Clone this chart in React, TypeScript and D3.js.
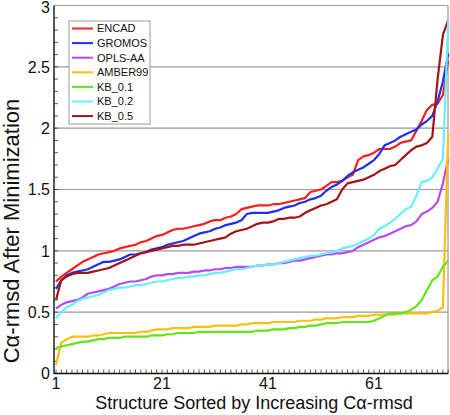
import React from "react";
import * as d3 from "d3";

const seriesNames = ["ENCAD", "GROMOS", "OPLS-AA", "AMBER99", "KB_0.1", "KB_0.2", "KB_0.5"];
const seriesColors = ["#ff1c1c", "#1f2ef0", "#b44af2", "#ffbe0a", "#5ee617", "#66f0ff", "#a51212"];

const encad = [0.75,0.79,0.82,0.85,0.88,0.91,0.93,0.95,0.97,0.98,0.99,1.00,1.02,1.03,1.04,1.05,1.07,1.08,1.10,1.12,1.13,1.15,1.17,1.18,1.18,1.19,1.20,1.21,1.22,1.24,1.25,1.25,1.27,1.28,1.30,1.34,1.35,1.36,1.37,1.37,1.37,1.38,1.38,1.39,1.40,1.41,1.42,1.43,1.48,1.49,1.50,1.53,1.56,1.56,1.57,1.60,1.62,1.74,1.77,1.78,1.80,1.83,1.83,1.83,1.85,1.88,1.89,1.90,1.98,2.06,2.15,2.19,2.20,2.27,2.55];
const gromos = [0.69,0.76,0.80,0.82,0.83,0.84,0.85,0.87,0.89,0.91,0.91,0.92,0.93,0.95,0.97,0.97,0.98,0.99,1.01,1.02,1.03,1.05,1.06,1.07,1.08,1.10,1.12,1.14,1.15,1.16,1.18,1.19,1.21,1.22,1.23,1.25,1.30,1.31,1.31,1.31,1.31,1.32,1.33,1.35,1.36,1.37,1.39,1.40,1.42,1.43,1.45,1.49,1.52,1.54,1.57,1.61,1.64,1.66,1.68,1.71,1.74,1.79,1.86,1.88,1.90,1.93,1.95,1.97,1.99,2.03,2.06,2.10,2.22,2.38,2.61];
const oplsaa = [0.53,0.56,0.58,0.59,0.60,0.62,0.65,0.66,0.67,0.68,0.69,0.71,0.73,0.74,0.75,0.75,0.76,0.77,0.79,0.80,0.80,0.81,0.81,0.82,0.82,0.82,0.83,0.83,0.84,0.84,0.85,0.85,0.86,0.86,0.87,0.87,0.87,0.87,0.88,0.88,0.89,0.89,0.90,0.90,0.91,0.92,0.92,0.93,0.94,0.95,0.96,0.97,0.97,0.98,0.98,0.99,1.00,1.03,1.05,1.07,1.09,1.11,1.12,1.14,1.16,1.18,1.20,1.21,1.24,1.30,1.32,1.35,1.40,1.55,1.75];
const amber99 = [0.07,0.25,0.28,0.30,0.30,0.30,0.30,0.31,0.31,0.32,0.33,0.33,0.33,0.33,0.33,0.33,0.34,0.34,0.35,0.36,0.36,0.36,0.37,0.37,0.37,0.37,0.38,0.38,0.38,0.38,0.39,0.39,0.39,0.39,0.39,0.40,0.40,0.41,0.41,0.41,0.41,0.42,0.42,0.42,0.42,0.42,0.43,0.43,0.43,0.44,0.44,0.45,0.45,0.45,0.46,0.46,0.46,0.47,0.47,0.47,0.48,0.48,0.48,0.48,0.48,0.49,0.49,0.49,0.49,0.49,0.49,0.50,0.51,0.54,1.96];
const kb01 = [0.21,0.22,0.23,0.24,0.25,0.26,0.26,0.27,0.28,0.28,0.29,0.29,0.29,0.30,0.30,0.30,0.30,0.30,0.31,0.31,0.31,0.32,0.32,0.33,0.33,0.33,0.33,0.34,0.34,0.34,0.34,0.34,0.34,0.34,0.34,0.34,0.34,0.34,0.35,0.35,0.35,0.36,0.36,0.36,0.37,0.37,0.38,0.38,0.39,0.39,0.40,0.41,0.41,0.41,0.42,0.42,0.42,0.42,0.42,0.42,0.43,0.45,0.47,0.49,0.49,0.49,0.50,0.52,0.55,0.60,0.68,0.76,0.79,0.87,0.92];
const kb02 = [0.45,0.50,0.54,0.56,0.59,0.61,0.62,0.63,0.64,0.66,0.68,0.69,0.70,0.70,0.71,0.72,0.72,0.73,0.74,0.75,0.75,0.76,0.77,0.78,0.78,0.79,0.79,0.80,0.80,0.81,0.82,0.82,0.83,0.84,0.85,0.85,0.86,0.87,0.88,0.88,0.89,0.89,0.90,0.91,0.92,0.93,0.94,0.95,0.96,0.96,0.97,0.98,0.99,1.00,1.02,1.03,1.04,1.06,1.08,1.10,1.13,1.18,1.20,1.23,1.26,1.30,1.34,1.36,1.45,1.56,1.57,1.60,1.67,1.75,2.88];
const kb05 = [0.60,0.76,0.79,0.81,0.82,0.82,0.82,0.83,0.84,0.85,0.86,0.88,0.90,0.92,0.94,0.96,0.98,0.99,1.00,1.01,1.02,1.03,1.04,1.04,1.05,1.05,1.05,1.06,1.07,1.08,1.09,1.10,1.11,1.14,1.16,1.17,1.18,1.20,1.22,1.23,1.23,1.24,1.26,1.26,1.27,1.27,1.28,1.31,1.33,1.35,1.37,1.38,1.40,1.42,1.50,1.55,1.56,1.57,1.58,1.60,1.62,1.65,1.67,1.69,1.70,1.74,1.78,1.82,1.85,1.86,1.88,1.93,2.40,2.76,2.88];

const seriesValues = [encad, gromos, oplsaa, amber99, kb01, kb02, kb05];
const drawOrder = [0, 1, 2, 3, 4, 6, 5];

const xTickLabels = [1, 21, 41, 61];
const yTickLabels = [0, 0.5, 1, 1.5, 2, 2.5, 3];
const gridValues = [0.5, 1, 1.5, 2, 2.5];

const W = 450;
const H = 415;
const left = 54, right = 448, top = 5.5, bottom = 373.5;
const FONT = "'Liberation Sans', Arial, Helvetica, sans-serif";

export default function App() {
  const x = d3.scaleLinear().domain([0.62, 74.96]).range([left, right]);
  const y = d3.scaleLinear().domain([0, 3]).range([bottom, top]);
  const line = d3
    .line<number>()
    .x((_, i) => x(i + 1))
    .y((d) => y(d));

  const xMinor = d3.range(1, 76);
  const yMinor = d3.range(1, 30).map((v) => v / 10);

  return (
    <svg
      width={W}
      height={H}
      style={{ position: "absolute", left: 0, top: 0, background: "#fff" }}
      fontFamily={FONT}
    >
      <rect x={0} y={0} width={W} height={H} fill="#fff" />
      {gridValues.map((g) => (
        <line key={g} x1={left} x2={right} y1={y(g)} y2={y(g)} stroke="#9a9a9a" strokeWidth={1.2} />
      ))}
      <line x1={left} x2={right} y1={top} y2={top} stroke="#9a9a9a" strokeWidth={1.2} />
      <line x1={right} x2={right} y1={top} y2={bottom} stroke="#9a9a9a" strokeWidth={1.2} />
      {xMinor.map((t) => (
        <line key={"xt" + t} x1={x(t)} x2={x(t)} y1={bottom} y2={bottom - 4} stroke="#333" strokeWidth={0.8} />
      ))}
      {yMinor.map((t) => (
        <line key={"yt" + t} x1={left} x2={left + 4} y1={y(t)} y2={y(t)} stroke="#333" strokeWidth={0.8} />
      ))}
      <defs>
        <clipPath id="plotclip">
          <rect x={left} y={top - 1} width={right - left + 2} height={bottom - top + 1} />
        </clipPath>
      </defs>
      <g clipPath="url(#plotclip)">
        {drawOrder.map((k) => (
          <path
            key={seriesNames[k]}
            d={line(seriesValues[k]) || ""}
            fill="none"
            stroke={seriesColors[k]}
            strokeWidth={2.2}
            strokeLinejoin="round"
          />
        ))}
      </g>
      <line x1={left} x2={left} y1={top} y2={bottom + 0.5} stroke="#111" strokeWidth={1.4} />
      <line x1={left} x2={right} y1={bottom} y2={bottom} stroke="#111" strokeWidth={1.4} />
      {yTickLabels.map((t) => (
        <text key={"yl" + t} x={50} y={Math.max(y(t), 7)} dy="0.36em" textAnchor="end" fontSize={16} fill="#111">
          {t}
        </text>
      ))}
      {xTickLabels.map((t) => (
        <text key={"xl" + t} x={x(t)} y={389} textAnchor="middle" fontSize={16} fill="#111">
          {t}
        </text>
      ))}
      <text x={(left + right) / 2 + 3} y={409} textAnchor="middle" fontSize={18} fill="#111">
        Structure Sorted by Increasing Cα-rmsd
      </text>
      <text
        transform={`translate(19, 231) rotate(-90)`}
        textAnchor="middle"
        fontSize={22}
        fill="#111"
      >
        Cα-rmsd After Minimization
      </text>
      <rect x={69} y={21} width={81} height={103} fill="#fff" stroke="#9a9a9a" strokeWidth={1} />
      {seriesNames.map((name, i) => {
        const ly = 28.5 + i * 14.6;
        return (
          <g key={"lg" + name}>
            <line x1={72} x2={93} y1={ly} y2={ly} stroke={seriesColors[i]} strokeWidth={2} />
            <text x={97} y={ly} dy="0.36em" fontSize={11} fill="#111">
              {name}
            </text>
          </g>
        );
      })}
    </svg>
  );
}
